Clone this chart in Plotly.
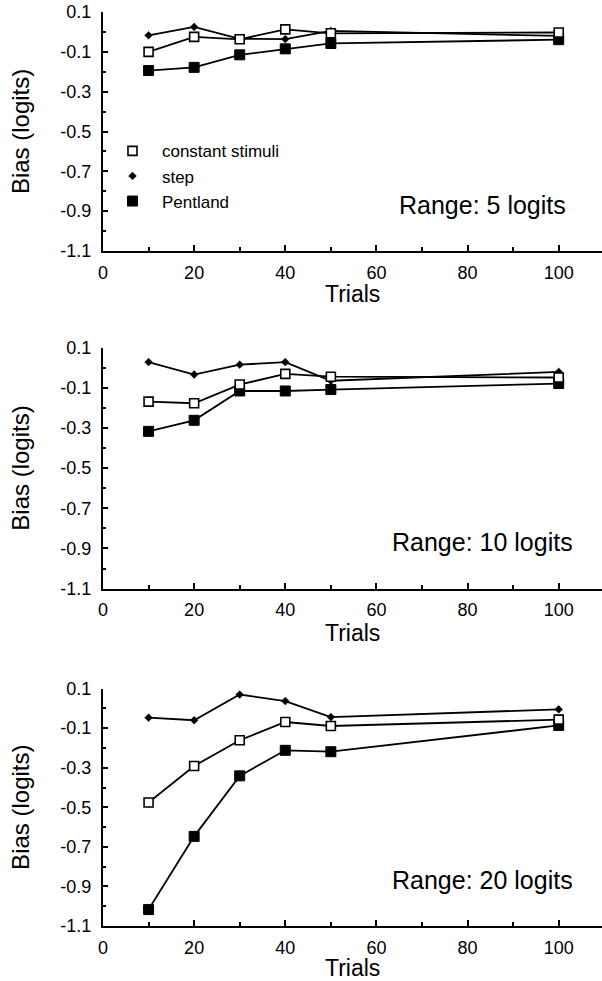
import plotly.graph_objects as go

# ---------------- data ----------------
trials = [10, 20, 30, 40, 50, 100]

cs_5 = [-0.100, -0.025, -0.037, 0.013, -0.007, -0.003]
step_5 = [-0.017, 0.025, -0.035, -0.036, 0.005, -0.020]
pent_5 = [-0.194, -0.178, -0.115, -0.085, -0.058, -0.039]

cs_10 = [-0.169, -0.177, -0.084, -0.031, -0.045, -0.049]
step_10 = [0.028, -0.034, 0.015, 0.028, -0.065, -0.021]
pent_10 = [-0.317, -0.262, -0.116, -0.116, -0.109, -0.079]

cs_20 = [-0.476, -0.291, -0.161, -0.069, -0.089, -0.057]
step_20 = [-0.047, -0.060, 0.070, 0.037, -0.044, -0.005]
pent_20 = [-1.017, -0.647, -0.341, -0.212, -0.219, -0.086]

panel_labels = ["Range: 5 logits", "Range: 10 logits", "Range: 20 logits"]
x_title = "Trials"
y_title = "Bias (logits)"

y_tickvals = [0.1, -0.1, -0.3, -0.5, -0.7, -0.9, -1.1]
y_ticktext = ["0.1", "-0.1", "-0.3", "-0.5", "-0.7", "-0.9", "-1.1"]
x_tickvals = [0, 20, 40, 60, 80, 100]
x_ticktext = ["0", "20", "40", "60", "80", "100"]

panels = [
    (cs_5, step_5, pent_5),
    (cs_10, step_10, pent_10),
    (cs_20, step_20, pent_20),
]

# ---------------- styling ----------------
FONT = "Liberation Sans, Arial, Helvetica, sans-serif"
W, H = 602, 981
ML, MR = 102.5, 0
MT = 11.7
MB = 981 - 925.7
plot_w = W - ML - MR
plot_h = H - MT - MB
# panel pixel extents (top, bottom) in window coordinates
panel_px = [(11.7, 250.7), (347.3, 588.3), (688.3, 925.7)]
range_label_y = [205, 541.7, 880]
trials_title_y = [294, 633, 968]


def dom(top, bottom):
    return [(H - MB - bottom) / plot_h, (H - MB - top) / plot_h]


def py(pix):  # window pixel (from top) -> paper y
    return (H - MB - pix) / plot_h


def px(pix):  # window pixel (from left) -> paper x
    return (pix - ML) / plot_w


fig = go.Figure()

styles = {
    "cs": dict(symbol="square", size=9, color="white",
               line=dict(color="black", width=1.6)),
    "step": dict(symbol="diamond", size=6, color="black",
                 line=dict(color="black", width=0.5)),
    "pent": dict(symbol="square", size=10, color="black",
                 line=dict(color="black", width=1)),
}

for i, (cs, st, pe) in enumerate(panels):
    xa = "x" if i == 0 else f"x{i+1}"
    ya = "y" if i == 0 else f"y{i+1}"
    for name, vals, key in [("step", st, "step"), ("Pentland", pe, "pent"),
                            ("constant stimuli", cs, "cs")]:
        fig.add_trace(go.Scatter(
            x=trials, y=vals, mode="lines+markers", name=name,
            line=dict(color="black", width=1.8),
            marker=styles[key], showlegend=False,
            xaxis=xa, yaxis=ya,
        ))

# legend-only entries (markers only, as in the reference)
for name, key in [("constant stimuli", "cs"), ("step", "step"), ("Pentland", "pent")]:
    fig.add_trace(go.Scatter(
        x=[None], y=[None], mode="markers", name="\u00a0\u00a0" + name,
        marker=styles[key], showlegend=True, xaxis="x", yaxis="y",
    ))

axis_common = dict(showline=True, linecolor="black", linewidth=2,
                   showgrid=False, zeroline=False, mirror=False,
                   automargin=False,
                   tickfont=dict(family=FONT, size=18, color="black"))

annotations = []
layout = dict(
    width=W, height=H,
    margin=dict(l=ML, r=MR, t=MT, b=MB, pad=0, autoexpand=False),
    paper_bgcolor="white", plot_bgcolor="white",
    font=dict(family=FONT, color="black"),
    showlegend=True,
    legend=dict(x=px(112), y=py(133), xanchor="left", yanchor="top",
                bgcolor="rgba(0,0,0,0)", borderwidth=0,
                font=dict(family=FONT, size=17, color="black"),
                tracegroupgap=0, itemwidth=30),
)

for i, (top, bottom) in enumerate(panel_px):
    xk = "xaxis" if i == 0 else f"xaxis{i+1}"
    yk = "yaxis" if i == 0 else f"yaxis{i+1}"
    xa = "x" if i == 0 else f"x{i+1}"
    ya = "y" if i == 0 else f"y{i+1}"
    layout[xk] = dict(
        axis_common, domain=[0, 1], range=[0, 109.5], anchor=ya,
        tickmode="array", tickvals=x_tickvals, ticktext=x_ticktext,
        ticks="inside", ticklen=6, tickwidth=1.5, tickcolor="black",
        ticklabelstandoff=4,
        minor=dict(tickmode="array", tickvals=[10, 30, 50, 70, 90],
                   ticks="inside", ticklen=4, tickwidth=1.5, tickcolor="black"),
    )
    layout[yk] = dict(
        axis_common, domain=dom(top, bottom), range=[-1.1, 0.1], anchor=xa,
        tickmode="array", tickvals=y_tickvals, ticktext=y_ticktext,
        ticks="inside", ticklen=5, tickwidth=1.5, tickcolor="black",
        ticklabelstandoff=6,
        minor=dict(tickmode="array",
                   tickvals=[0.0, -0.2, -0.4, -0.6, -0.8, -1.0],
                   ticks="inside", ticklen=3, tickwidth=1.5, tickcolor="black"),
    )
    annotations.append(dict(
        text=panel_labels[i], xref="paper", yref="paper",
        x=px(482), y=py(range_label_y[i]),
        xanchor="center", yanchor="middle", showarrow=False,
        font=dict(family=FONT, size=25, color="black"),
    ))
    annotations.append(dict(
        text=x_title, xref="paper", yref="paper",
        x=px(352), y=py(trials_title_y[i]),
        xanchor="center", yanchor="middle", showarrow=False,
        font=dict(family=FONT, size=23, color="black"),
    ))
    annotations.append(dict(
        text=y_title, xref="paper", yref="paper", textangle=-90,
        x=px(20), y=py((top + bottom) / 2),
        xanchor="center", yanchor="middle", showarrow=False,
        font=dict(family=FONT, size=24, color="black"),
    ))

layout["annotations"] = annotations
fig.update_layout(**layout)
# remove the browser's default 8px page margin so the figure fills the window
fig.write_html("out.html", config={"displayModeBar": False},
               post_script="document.body.style.margin='0px';")
